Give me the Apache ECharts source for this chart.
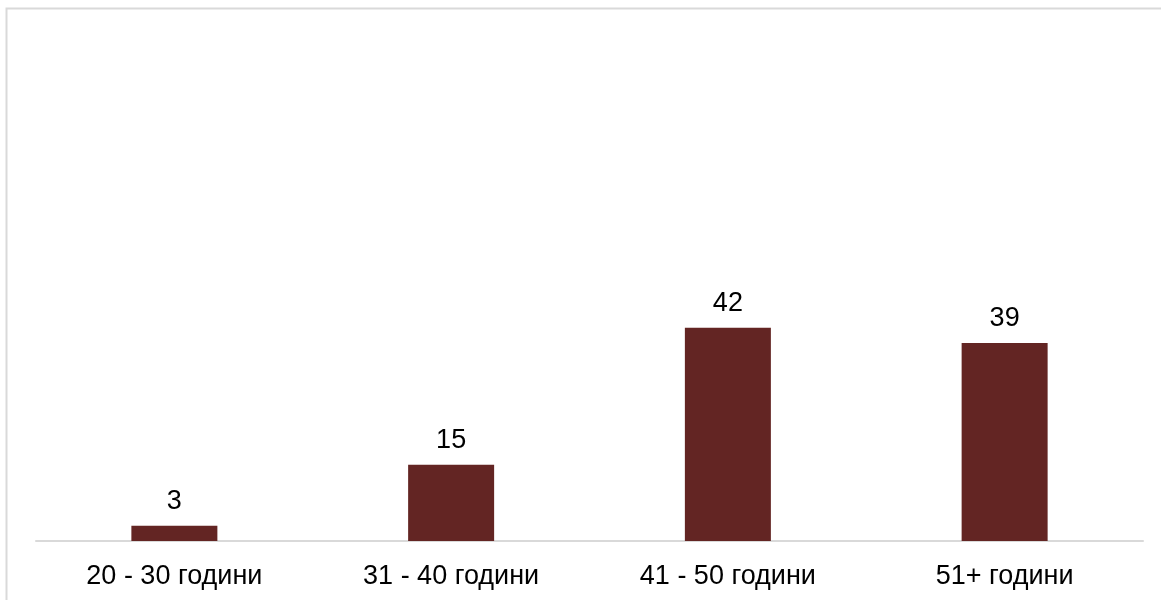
<!DOCTYPE html>
<html><head><meta charset="utf-8">
<script src="https://cdn.jsdelivr.net/npm/echarts@6/dist/echarts.min.js"></script>
<style>html,body{margin:0;padding:0;background:#fff}#c{width:1161px;height:600px}</style>
</head><body><div id="c"></div>
<script>
const categories = ['20 - 30 години', '31 - 40 години', '41 - 50 години', '51+ години'];
const values = [3, 15, 42, 39];
const chart = echarts.init(document.getElementById('c'));
chart.setOption({
  animation: false,
  backgroundColor: '#ffffff',
  graphic: [{
    type: 'rect', shape: { x: 6.5, y: 8.5, width: 1170, height: 620 },
    style: { fill: 'none', stroke: '#d9d9d9', lineWidth: 2 }, silent: true
  }],
  grid: { left: 36, right: 18, top: 33, bottom: 59, containLabel: false },
  xAxis: {
    type: 'category', data: categories,
    axisLine: { show: true, lineStyle: { color: '#d9d9d9', width: 2 } },
    axisTick: { show: false },
    axisLabel: { color: '#000', fontFamily: 'Liberation Sans, Arial', fontSize: 27, margin: 22 }
  },
  yAxis: { type: 'value', min: 0, max: 100, show: false, splitLine: { show: false } },
  series: [{
    type: 'bar', data: values, barWidth: 86,
    itemStyle: { color: '#632523' },
    label: { show: true, position: 'top', distance: 11, color: '#000', fontFamily: 'Liberation Sans, Arial', fontSize: 27 }
  }]
});
</script></body></html>
